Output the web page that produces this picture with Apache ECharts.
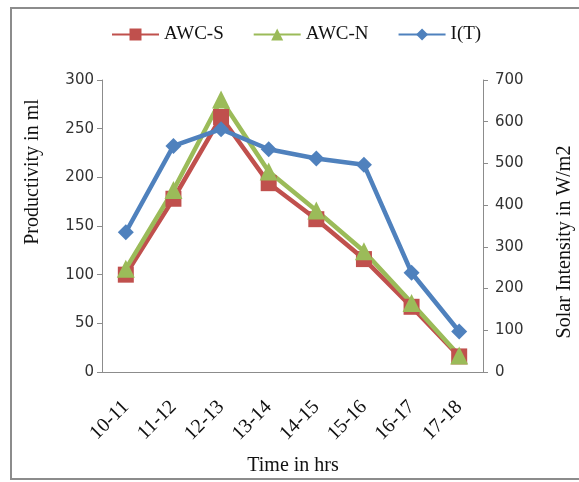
<!DOCTYPE html>
<html><head><meta charset="utf-8">
<script src="https://cdn.jsdelivr.net/npm/echarts@6/dist/echarts.min.js"></script>
<style>html,body{margin:0;padding:0;background:#fff}#c{width:579px;height:482px}
#frame{position:absolute;left:10px;top:7px;width:569px;height:473px;border:2px solid #8c8c8c;border-right:none;box-sizing:border-box;pointer-events:none}</style>
</head><body><div id="c"></div><div id="frame"></div>
<script>
const categories = ['10-11','11-12','12-13','13-14','14-15','15-16','16-17','17-18'];
const awcS = [100, 178, 262, 194, 157, 116, 67, 16];
const awcN = [106, 187, 280, 206, 166, 124, 71, 17];
const intensity = [335, 542, 582, 534, 512, 497, 238, 97];
const leftTicks = {min: 0, max: 300, interval: 50};
const rightTicks = {min: 0, max: 700, interval: 100};
const titles = {x: 'Time in hrs', left: 'Productivity in ml', right: 'Solar Intensity in W/m2'};

const chart = echarts.init(document.getElementById('c'));
const serif = '"Liberation Serif", "DejaVu Serif", serif';
const sans = '"DejaVu Sans", Verdana, sans-serif';
const axisLine = {show: true, lineStyle: {color: '#8c8c8c', width: 1}};
const titleStyle = {fontFamily: serif, fontSize: 20, fill: '#111', textAlign: 'center', textVerticalAlign: 'middle'};
chart.setOption({
  animation: false,
  backgroundColor: '#fff',
  legend: {
    top: 20, left: 106, itemGap: 29, itemWidth: 47, itemHeight: 15,
    textStyle: {fontFamily: serif, fontSize: 19, color: '#111'},
    data: ['AWC-S', 'AWC-N', 'I(T)']
  },
  grid: {left: 102, right: 96, top: 80, bottom: 110},
  graphic: [
    {type: 'text', x: 293, y: 466, style: Object.assign({text: titles.x}, titleStyle)},
    {type: 'text', rotation: Math.PI / 2, x: 33, y: 172, style: Object.assign({text: titles.left}, titleStyle)},
    {type: 'text', rotation: Math.PI / 2, x: 565, y: 242, style: Object.assign({text: titles.right}, titleStyle)}
  ],
  xAxis: {
    type: 'category', data: categories, boundaryGap: true,
    axisLine: axisLine, axisTick: {show: false},
    axisLabel: {rotate: 45, fontFamily: serif, fontSize: 20, color: '#111', margin: 32}
  },
  yAxis: [{
    type: 'value', min: leftTicks.min, max: leftTicks.max, interval: leftTicks.interval,
    position: 'left', splitLine: {show: false},
    axisLine: axisLine, axisTick: {show: true, length: 5, lineStyle: {color: '#8c8c8c'}},
    axisLabel: {fontFamily: sans, fontSize: 15, color: '#333', margin: 8}
  }, {
    type: 'value', min: rightTicks.min, max: rightTicks.max, interval: rightTicks.interval,
    position: 'right', splitLine: {show: false},
    axisLine: axisLine, axisTick: {show: true, length: 5, lineStyle: {color: '#8c8c8c'}},
    axisLabel: {fontFamily: sans, fontSize: 15, color: '#333', margin: 12}
  }],
  series: [{
    name: 'AWC-S', type: 'line', yAxisIndex: 0, data: awcS,
    symbol: 'rect', symbolSize: 16, color: '#C0504D',
    lineStyle: {width: 4.5, color: '#C0504D'}, itemStyle: {color: '#C0504D'}
  }, {
    name: 'AWC-N', type: 'line', yAxisIndex: 0, data: awcN,
    symbol: 'triangle', symbolSize: 18, color: '#9BBB59',
    lineStyle: {width: 4.5, color: '#9BBB59'}, itemStyle: {color: '#9BBB59'}
  }, {
    name: 'I(T)', type: 'line', yAxisIndex: 1, data: intensity,
    symbol: 'diamond', symbolSize: 16, color: '#4F81BD',
    lineStyle: {width: 4.5, color: '#4F81BD'}, itemStyle: {color: '#4F81BD'}
  }]
});
</script>
</body></html>
